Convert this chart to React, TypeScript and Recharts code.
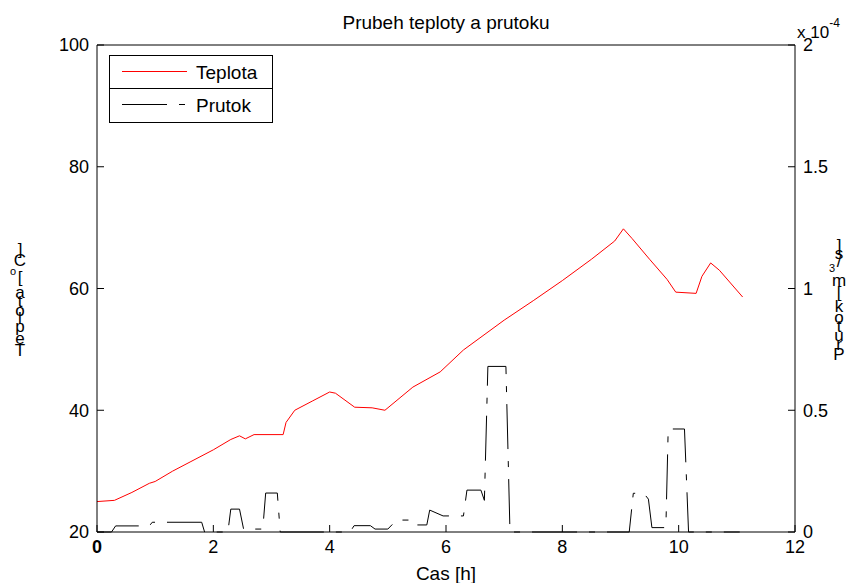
import React from "react";
import { LineChart, Line, XAxis, YAxis } from "recharts";

// temperature [°C] over time [h]
const tempHours = [0, 0.3, 0.6, 0.9, 1.0, 1.3, 1.6, 2.0, 2.3, 2.45, 2.55, 2.7, 3.2, 3.25, 3.4, 3.7, 4.0, 4.1, 4.43, 4.73, 4.95, 5.43, 5.9, 6.3, 7.0, 7.5, 8.0, 8.5, 8.9, 9.05, 9.2, 9.5, 9.8, 9.95, 10.3, 10.4, 10.55, 10.7, 11.1];
const tempValues = [25, 25.2, 26.5, 28, 28.3, 30, 31.5, 33.5, 35.2, 35.8, 35.3, 36, 36, 38, 40, 41.5, 43, 42.8, 40.5, 40.4, 40, 43.8, 46.3, 49.9, 54.8, 58, 61.3, 64.8, 67.8, 69.8, 68.2, 64.8, 61.5, 59.4, 59.2, 62, 64.2, 63, 58.6];

// flow [x 1e-4 m3/s] over time [h]
const flowHours = [0, 0.25, 0.32, 0.9, 0.95, 1.8, 1.85, 2.25, 2.3, 2.45, 2.52, 2.85, 2.9, 3.1, 3.15, 4.35, 4.42, 4.7, 4.78, 5.0, 5.15, 5.38, 5.42, 5.67, 5.72, 5.95, 6.3, 6.36, 6.6, 6.66, 6.72, 7.03, 7.1, 9.15, 9.22, 9.4, 9.48, 9.54, 9.78, 9.82, 10.1, 10.17, 11.05];
const flowValues = [0, 0, 0.025, 0.025, 0.04, 0.04, 0, 0, 0.094, 0.094, 0.012, 0.012, 0.16, 0.16, 0, 0, 0.026, 0.026, 0.012, 0.012, 0.049, 0.049, 0.029, 0.029, 0.09, 0.066, 0.066, 0.172, 0.172, 0.13, 0.68, 0.68, 0, 0, 0.159, 0.159, 0.135, 0.018, 0.018, 0.423, 0.423, 0, 0];

const xTicks = [0, 2, 4, 6, 8, 10, 12];
const leftTicks = [20, 40, 60, 80, 100];
const rightTicks = [0, 0.5, 1, 1.5, 2];

const tempData = tempHours.map((h, i) => ({ h, t: tempValues[i] }));
const flowData = flowHours.map((h, i) => ({ h, q: flowValues[i] }));

const FONT = '"Liberation Sans", Arial, sans-serif';
const FLOW_DASH = "45 12 6 12";

// advance widths (em) for the stacked, upright axis labels
const W: Record<string, number> = {
  T: 0.61, e: 0.56, p: 0.56, l: 0.22, o: 0.56, t: 0.28, a: 0.56, " ": 0.28, "[": 0.28, "]": 0.28,
  C: 0.72, P: 0.67, r: 0.33, u: 0.56, k: 0.5, m: 0.83, "3": 0.56, "/": 0.28, s: 0.5,
};

type Ch = { c: string; sup?: boolean };
const leftLabel: Ch[] = [..."Teplota ["].map((c) => ({ c })).concat([{ c: "o", sup: true }, { c: "C" }, { c: "]" }]);
const rightLabel: Ch[] = [..."Prutok [m"].map((c) => ({ c })).concat([{ c: "3", sup: true }, { c: "/" }, { c: "s" }, { c: "]" }]);

const Stacked = ({ chars, cx, bottom }: { chars: Ch[]; cx: number; bottom: number }) => {
  const scale = 21;
  let cum = 0;
  return (
    <g>
      {chars.map((ch, i) => {
        const w = (W[ch.c] ?? 0.5) * (ch.sup ? 0.6 : 1);
        const cy = bottom - (cum + w / 2) * scale;
        cum += w;
        return (
          <text key={i} x={ch.sup ? cx - 7 : cx} y={cy} textAnchor="middle" dominantBaseline="central"
            fontSize={ch.sup ? 11 : 17} fontFamily={FONT} fill="#000">
            {ch.c}
          </text>
        );
      })}
    </g>
  );
};

const BottomTick = (props: any) => {
  const { x, y, payload } = props;
  return (
    <text x={x} y={y} dy="0.71em" textAnchor="middle" fontSize={18} fontFamily={FONT}
      fontWeight={payload.value === 0 ? "bold" : "normal"} fill="#000">
      {payload.value}
    </text>
  );
};

const LegendBox = () => (
  <g transform="translate(109,55)">
    <rect x={0.5} y={0.5} width={163} height={67} fill="#fff" stroke="#000" />
    <line x1={0.5} x2={163.5} y1={33.5} y2={33.5} stroke="#000" />
    <line x1={13} x2={78} y1={16.5} y2={16.5} stroke="#ff0000" />
    <text x={87} y={17} dominantBaseline="central" fontSize={19} fontFamily={FONT}>Teplota</text>
    <line x1={13} x2={81} y1={49.5} y2={49.5} stroke="#000" strokeDasharray={FLOW_DASH} />
    <text x={87} y={50} dominantBaseline="central" fontSize={19} fontFamily={FONT}>Prutok</text>
  </g>
);

const App: React.FC = () => {
  const tickStyle = { fontSize: 18, fill: "#000", fontFamily: FONT };
  return (
    <div style={{ position: "absolute", left: 0, top: 0, width: 847, height: 583, background: "#fff" }}>
      <LineChart width={847} height={583} margin={{ top: 40, right: 12, bottom: 21, left: 37 }}>
        <XAxis dataKey="h" type="number" domain={[0, 12]} ticks={xTicks} allowDataOverflow
          stroke="#000" tickSize={-7} tickMargin={15} height={30} tick={<BottomTick />} />
        <XAxis xAxisId="top" orientation="top" type="number" domain={[0, 12]} ticks={xTicks}
          stroke="#000" tickSize={-7} tickFormatter={() => ""} height={5} />
        <YAxis yAxisId="left" type="number" domain={[20, 100]} ticks={leftTicks} width={60}
          stroke="#000" tickSize={-7} tickMargin={15} tick={tickStyle} />
        <YAxis yAxisId="right" orientation="right" type="number" domain={[0, 2]} ticks={rightTicks} width={40}
          stroke="#000" tickSize={-7} tickMargin={15} tick={tickStyle} />
        <Line data={tempData} dataKey="t" name="Teplota" yAxisId="left" stroke="#ff0000" strokeWidth={1}
          dot={false} type="linear" isAnimationActive={false} />
        <Line data={flowData} dataKey="q" name="Prutok" yAxisId="right" stroke="#000" strokeWidth={1}
          strokeDasharray={FLOW_DASH} dot={false} type="linear" isAnimationActive={false} />
      </LineChart>
      <svg width={847} height={583} style={{ position: "absolute", left: 0, top: 0, pointerEvents: "none" }}>
        <LegendBox />
        <text x={446} y={22} textAnchor="middle" dominantBaseline="central" fontSize={19} fontFamily={FONT}>
          Prubeh teploty a prutoku
        </text>
        <text x={446} y={573} textAnchor="middle" dominantBaseline="central" fontSize={19} fontFamily={FONT}>
          Cas [h]
        </text>
        <text x={797} y={32} dominantBaseline="central" fontSize={17} fontFamily={FONT}>
          x 10<tspan dy={-9} fontSize={12}>-4</tspan>
        </text>
        <Stacked chars={leftLabel} cx={20} bottom={357} />
        <Stacked chars={rightLabel} cx={839} bottom={362} />
      </svg>
    </div>
  );
};

export default App;
